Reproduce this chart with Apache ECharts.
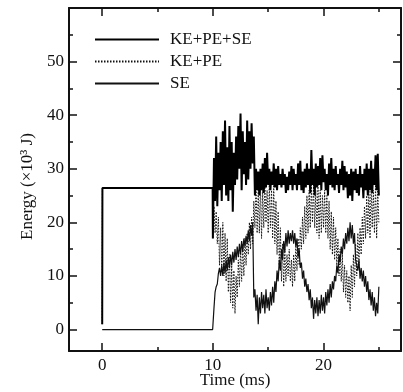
<!DOCTYPE html>
<html>
<head>
<meta charset="utf-8">
<script src="https://cdn.jsdelivr.net/npm/echarts@6/dist/echarts.min.js"></script>
<style>
html,body{margin:0;padding:0;background:#fff;}
#chart{width:403px;height:392px;}
</style>
</head>
<body>
<div id="chart"></div>
<script>
// ---- data ----
const seriesNames = ['KE+PE+SE', 'KE+PE', 'SE'];
// 0 - 10 ms segment
const preTime = [0, 0.02, 9.98];
const preTotal = [1, 26.4, 26.4];
const preKEPE = [1, 26.4, 26.4];
const preSE = [0, 0, 0];
// 10 - 25 ms segment, sampled every 0.1 ms
const sampleStart = 10;
const sampleStep = 0.1;
const totalVals = [
  17, 32, 24, 36, 23, 33, 26, 35, 24, 37, 27,
  39, 25, 34, 24, 38, 26, 35, 22, 33, 27,
  36, 28, 38, 30, 40.3, 26, 37, 29, 35, 27,
  39, 28, 37, 30, 38.5, 31, 36, 25, 30, 26,
  29.5, 25, 30, 26, 31, 25.5, 32, 26.5, 33, 27,
  30, 26, 29.5, 27, 31, 26.5, 30, 26, 30.5, 27,
  29, 26.5, 30, 27, 29, 25.5, 28.5, 26, 29.5, 27,
  30.5, 26, 30, 27, 29, 26, 31, 27, 31.5, 26,
  29.5, 25.5, 30, 26.5, 31, 27, 30, 25.5, 33.5, 27,
  30, 25, 31, 26.5, 30.5, 27, 32, 26, 32.5, 27.5,
  30, 26, 29, 25, 31, 27, 32, 26.5, 30, 26,
  30.5, 27, 29, 25.5, 30, 27, 31.5, 26, 30.5, 26.5,
  29.5, 24.5, 29, 25, 30, 24, 29.5, 26, 30, 25.5,
  29, 25, 30.5, 26.5, 29, 24.5, 30, 26, 31, 25,
  30, 26, 31.5, 25.5, 30, 27, 32.5, 26, 32.8, 25
];
const kepeVals = [
  17, 23, 18, 22, 16, 21, 12, 19, 11, 20, 10,
  18, 9, 17, 7, 14, 5, 12, 4, 11, 3,
  10, 6, 13, 8, 15, 9, 16, 10, 17, 12,
  18, 14, 20, 15, 21, 16, 24, 19, 27, 18,
  26, 18, 27, 17, 26, 19, 27, 20, 26, 18,
  27, 19, 26, 17, 27, 16, 24, 14, 22, 12,
  19, 9, 16, 8, 15, 9, 14, 10, 15, 9,
  13, 8, 14, 9, 16, 11, 17, 12, 19, 15,
  21, 16, 23, 17, 25, 18, 26, 19, 27, 20,
  27, 19, 26, 18, 27, 17, 26, 18, 25, 19,
  26, 18, 25, 17, 24, 15, 22, 14, 21, 13,
  19, 12, 17, 10, 15, 9, 14, 7, 12, 6,
  11, 5, 10, 3.5, 12, 6, 14, 8, 16, 10,
  18, 12, 19, 14, 21, 16, 23, 17, 25, 18,
  26, 17, 27, 19, 26, 18, 27, 17, 26, 20
];
const seVals = [
  0, 4, 7, 8, 8.5, 10.5, 11.5, 10, 12, 10, 12.5,
  10.5, 13, 11, 13.5, 11.5, 14, 12, 14.5, 12.5, 15,
  13, 15.5, 13.5, 16, 14, 16.5, 14.5, 17, 15.5, 17.5,
  16, 18.5, 16.5, 19.5, 17.5, 20, 6, 7.5, 3.5, 6.5,
  1, 6, 3, 7, 4, 6.5, 3, 7.5, 4, 6,
  3.5, 7, 4.5, 8, 5, 9, 7, 11, 9, 13,
  11, 15, 13, 16.5, 14.5, 18, 15.5, 18.5, 16, 18,
  16.5, 18.5, 16, 18, 15.5, 17, 13.5, 15, 11.5, 12.5,
  9.5, 11, 8, 9.5, 7, 8.5, 5.5, 7.5, 4, 6,
  2, 5.5, 3, 6, 2.5, 5.5, 3, 6.5, 3.5, 6,
  3, 7, 4.5, 7.5, 5, 8.5, 6, 9, 7.5, 10,
  9, 12, 10.5, 14, 12.5, 15.5, 14, 17, 15, 18,
  16, 19, 16.5, 20, 17, 19.5, 16, 18, 13, 12,
  11, 13, 9.5, 11.5, 9, 11, 8, 10, 7, 9,
  5.5, 7.5, 4.5, 7, 3.5, 6, 2.5, 5, 3, 8
];
const xMajorTicks = [0, 10, 20];
const xMinorTicks = [5, 15, 25];
const yMajorTicks = [0, 10, 20, 30, 40, 50];
const yMinorTicks = [5, 15, 25, 35, 45, 55];

// ---- build series data ----
function build(preV, vals) {
  const out = [];
  for (let i = 0; i < preTime.length; i++) out.push([preTime[i], preV[i]]);
  for (let i = 0; i < vals.length; i++) {
    out.push([+(sampleStart + i * sampleStep).toFixed(2), vals[i]]);
  }
  return out;
}

const FONT = 'Liberation Serif';
const X_MIN = -3, X_MAX = 27, Y_MIN = -4, Y_MAX = 60;
const gridRect = { left: 69, right: 2, top: 8, bottom: 41, containLabel: false, outerBoundsMode: 'none' };
const lineCol = '#111';

function xAx(grid, pos, ticks, len, showLine, labels) {
  return {
    type: 'value', gridIndex: grid, position: pos, min: X_MIN, max: X_MAX,
    axisLine: { show: showLine, onZero: false, lineStyle: { color: lineCol, width: 2 } },
    axisTick: { show: true, inside: true, length: len, customValues: ticks, lineStyle: { color: lineCol, width: 1.5 } },
    axisLabel: labels ? { show: true, customValues: labels, margin: 6, color: '#111', fontFamily: FONT, fontSize: 17 } : { show: false },
    splitLine: { show: false }
  };
}
function yAx(grid, pos, ticks, len, showLine, labels) {
  return {
    type: 'value', gridIndex: grid, position: pos, min: Y_MIN, max: Y_MAX,
    axisLine: { show: showLine, onZero: false, lineStyle: { color: lineCol, width: 2 } },
    axisTick: { show: true, inside: true, length: len, customValues: ticks, lineStyle: { color: lineCol, width: 1.5 } },
    axisLabel: labels ? { show: true, customValues: labels, margin: 5, color: '#111', fontFamily: FONT, fontSize: 17 } : { show: false },
    splitLine: { show: false }
  };
}

const xBottom = xAx(0, 'bottom', xMajorTicks, 8, true, xMajorTicks);
xBottom.name = 'Time (ms)';
xBottom.nameLocation = 'middle';
xBottom.nameGap = 21;
xBottom.nameMoveOverlap = false;
xBottom.nameTextStyle = { fontFamily: FONT, fontSize: 17, color: '#111' };
const yLeft = yAx(0, 'left', yMajorTicks, 8, true, yMajorTicks);
yLeft.name = 'Energy (×10³ J)';
yLeft.nameLocation = 'middle';
yLeft.nameGap = 33;
yLeft.nameMoveOverlap = false;
yLeft.nameTextStyle = { fontFamily: FONT, fontSize: 17, color: '#111', padding: [0, 14, 0, 0] };

const chart = echarts.init(document.getElementById('chart'), null, { renderer: 'canvas' });
chart.setOption({
  animation: false,
  backgroundColor: '#fff',
  grid: [Object.assign({}, gridRect), Object.assign({}, gridRect)],
  legend: {
    orient: 'vertical', left: 94, top: 31, padding: 0,
    data: seriesNames.map(n => ({ name: n })),
    itemWidth: 64, itemHeight: 14, itemGap: 5,
    itemStyle: { opacity: 0 },
    textStyle: { fontFamily: FONT, fontSize: 17, color: '#111', padding: [0, 0, 0, 6] }
  },
  xAxis: [
    xBottom,
    xAx(0, 'top', xMajorTicks, 8, true, null),
    xAx(1, 'bottom', xMinorTicks, 4, false, null),
    xAx(1, 'top', xMinorTicks, 4, false, null)
  ],
  yAxis: [
    yLeft,
    yAx(0, 'right', yMajorTicks, 8, true, null),
    yAx(1, 'left', yMinorTicks, 4, false, null),
    yAx(1, 'right', yMinorTicks, 4, false, null)
  ],
  series: [
    { name: 'SE', type: 'line', xAxisIndex: 0, yAxisIndex: 0, showSymbol: false, symbol: 'none',
      lineStyle: { color: '#111', width: 1.2 }, itemStyle: { color: '#111' }, data: build(preSE, seVals), z: 2 },
    { name: 'KE+PE', type: 'line', xAxisIndex: 0, yAxisIndex: 0, showSymbol: false, symbol: 'none',
      lineStyle: { color: '#111', width: 1, type: [1.5, 1.5] }, itemStyle: { color: '#111' }, data: build(preKEPE, kepeVals), z: 3 },
    { name: 'KE+PE+SE', type: 'line', xAxisIndex: 0, yAxisIndex: 0, showSymbol: false, symbol: 'none',
      lineStyle: { color: '#000', width: 2 }, itemStyle: { color: '#000' }, data: build(preTotal, totalVals), z: 4 }
  ]
});
</script>
</body>
</html>
